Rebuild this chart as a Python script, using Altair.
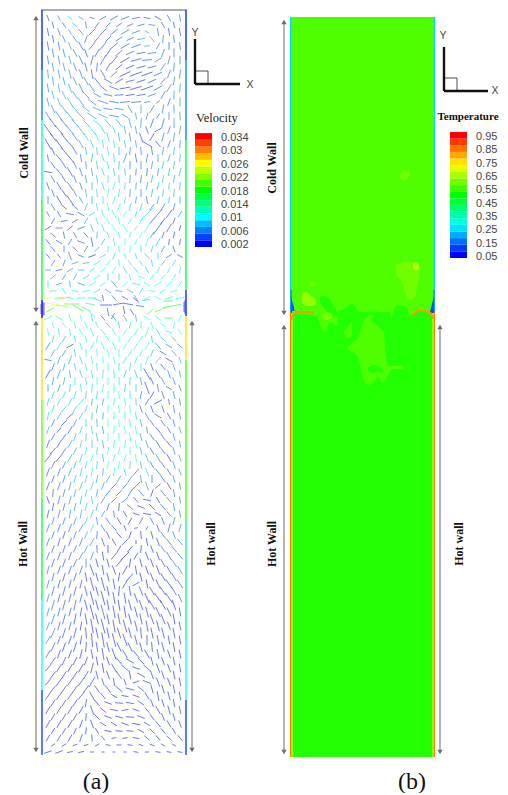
import math
import altair as alt
import pandas as pd

# ---------- velocity field: one row per y ----------
col_x = [48, 59, 70, 81, 92, 103, 114, 125, 136, 147, 158, 169, 180]
# y, direction (deg), glyph length (px), speed (x 0.001)
rows = [
 (18,[110,120,140,150,160,30,30,20,10,170,150,120,100],[7,6,6,6,5,8,9,9,8,7,8,7,7],[4,6,8,6,4,4,4,4,4,4,3,4,5]),
 (32,[100,110,120,130,45,45,40,30,20,150,100,100,100],[8,8,6,8,10,10,10,10,9,5,8,8,8],[4,5,6,5,4,4,4,4,5,6,5,4,4]),
 (46,[100,100,110,120,50,50,40,30,20,5,60,90,95],[9,9,8,10,10,11,11,10,10,6,7,8,8],[4,5,6,4,4,4,4,4,4,7,5,4,4]),
 (60,[100,100,105,115,75,60,50,30,15,5,30,75,90],[9,9,9,10,10,11,11,11,11,10,8,9,9],[5,6,6,5,4,4,3,3,3,4,5,5,5]),
 (74,[95,100,105,110,100,120,40,25,20,20,25,70,85],[9,9,10,10,10,10,9,12,13,12,9,9,9],[6,6,6,5,4,4,4,3,3,3,4,5,5]),
 (88,[100,100,110,115,125,140,160,10,15,20,30,60,85],[9,9,10,10,10,10,10,11,12,13,10,9,9],[6,7,7,5,5,4,4,3,3,3,4,5,6]),
 (102,[105,110,120,125,140,160,170,5,5,10,40,70,90],[9,9,11,11,11,11,10,10,10,6,5,8,9],[6,7,7,6,5,5,4,4,4,5,5,5,6]),
 (116,[120,125,130,135,145,155,170,150,100,75,60,90,95],[10,12,12,12,11,10,10,7,7,7,6,8,9],[5,6,6,7,7,6,5,5,6,5,4,5,6]),
 (130,[125,130,130,130,130,120,110,100,100,110,30,70,80],[14,13,12,13,12,9,8,8,8,8,8,8,9],[3,4,5,7,8,8,8,7,6,4,3,5,6]),
 (144,[120,125,130,120,110,100,100,100,100,150,130,70,85],[13,12,12,10,9,9,8,8,8,12,8,8,8],[3,3,4,6,8,9,9,8,7,3,3,5,6]),
 (158,[100,130,130,100,80,110,95,70,100,80,90,70,85],[7,10,12,8,8,8,9,10,9,9,8,8,8],[4,4,3,5,7,8,8,5,4,5,6,6,7]),
 (172,[170,130,120,110,100,110,100,100,85,85,80,80,75],[8,9,11,9,8,8,8,7,7,8,8,8,8],[3,4,4,5,6,8,8,7,5,4,6,7,7]),
 (186,[110,120,125,110,90,110,70,85,85,80,75,80,85],[8,9,10,8,8,8,8,7,7,8,8,7,8],[4,4,4,5,7,8,10,8,6,6,7,8,7]),
 (200,[90,120,125,120,90,90,70,80,80,100,75,80,90],[8,10,12,8,8,8,9,7,7,8,8,7,7],[4,3,3,5,7,9,11,9,6,5,7,8,6]),
 (214,[120,120,170,150,30,110,120,60,70,45,50,55,60],[6,7,8,8,7,9,9,7,7,18,12,10,7],[4,4,4,4,8,10,11,10,9,9,4,4,6]),
 (228,[30,0,40,20,110,110,120,120,50,60,55,60,75],[7,7,7,8,8,8,9,9,7,10,16,10,6],[3,4,3,4,7,9,10,11,10,10,4,4,3]),
 (242,[130,150,60,160,100,60,100,90,60,70,60,80,80],[7,7,7,8,10,7,8,6,7,9,9,6,6],[3,4,5,4,4,7,9,10,10,10,7,4,4]),
 (256,[130,130,110,160,20,30,70,110,110,130,90,30,150],[6,6,9,7,8,7,8,7,7,8,7,7,6],[4,4,5,5,3,8,9,10,9,9,8,5,3]),
 (270,[0,15,30,0,30,40,60,120,130,120,60,60,80],[6,7,7,7,7,7,8,8,8,8,7,7,7],[7,4,6,7,9,10,10,8,8,8,9,9,9]),
 (284,[90,20,100,160,30,30,130,40,170,150,30,40,60],[7,6,7,8,8,8,9,7,8,7,9,10,7],[9,5,7,6,10,11,5,10,9,11,10,10,11]),
 (298,[10,5,170,0,0,100,130,150,120,30,150,20,10],[10,9,7,9,9,6,7,7,6,7,8,9,9],[26,12,11,10,9,4,5,4,5,10,11,12,11]),
 (318,[30,150,110,100,100,130,130,120,100,150,140,0,60],[8,8,7,7,7,7,7,7,7,8,8,8,7],[12,12,14,10,8,4,5,6,7,10,12,16,12]),
 (332,[100,100,100,120,110,130,120,60,60,70,120,160,120],[7,7,7,8,9,8,8,8,8,10,8,7,7],[10,9,9,10,12,9,9,10,9,14,8,9,10]),
 (346,[60,60,30,110,60,110,110,60,60,60,130,150,140],[9,9,8,8,8,8,9,8,8,9,9,7,7],[5,8,3,9,9,10,11,10,10,11,5,5,5]),
 (360,[170,70,70,110,100,90,100,60,70,70,50,150,110],[7,9,10,9,8,8,8,8,8,9,8,8,7],[4,6,7,8,9,10,10,9,10,9,8,3,7]),
 (374,[60,70,100,110,100,85,95,70,110,120,120,110,100],[10,10,8,8,9,9,9,8,9,13,9,8,7],[3,6,7,8,9,9,9,8,8,3,4,5,6]),
 (388,[90,70,80,95,85,80,90,80,90,110,100,150,110],[7,8,8,8,9,9,9,8,8,13,8,7,7],[5,6,8,9,9,10,10,8,8,3,5,4,5]),
 (402,[75,60,60,50,80,75,85,100,95,60,30,100,100],[8,8,9,8,7,7,8,9,8,8,9,6,7],[8,8,8,9,7,6,11,10,9,4,3,4,5]),
 (416,[80,60,40,60,85,85,90,95,100,120,150,120,100],[8,8,10,8,7,7,8,9,8,8,8,7,7],[8,7,4,8,7,6,11,11,9,5,4,4,5]),
 (430,[70,50,60,70,100,100,85,100,100,100,130,120,110],[8,7,9,8,8,8,8,8,9,7,8,7,7],[7,3,4,8,8,6,10,11,10,5,3,4,6]),
 (444,[70,60,60,75,90,100,85,80,100,110,120,130,100],[9,9,9,8,8,8,8,8,8,8,9,9,7],[4,4,6,8,8,7,11,10,10,6,4,3,6]),
 (458,[50,50,60,70,70,100,70,70,100,110,120,120,110],[11,10,9,9,8,8,8,8,8,9,9,9,7],[3,3,6,8,10,7,12,11,11,7,5,3,6]),
 (472,[70,70,70,75,80,85,80,110,50,110,130,120,110],[9,9,9,9,9,8,8,8,9,9,9,8,7],[4,5,6,8,9,7,10,8,5,8,4,4,6]),
 (486,[70,70,75,70,70,70,45,50,45,110,40,120,100],[9,9,9,9,9,8,8,8,12,9,7,8,7],[4,5,6,7,8,6,4,4,4,6,3,3,5]),
 (500,[110,75,75,80,100,60,45,40,130,170,120,130,100],[8,9,9,9,8,8,8,8,7,8,7,7,7],[3,5,6,7,8,5,4,4,4,3,3,4,5]),
 (514,[75,75,80,80,70,60,100,120,160,170,150,130,100],[9,9,9,9,9,7,7,7,7,8,7,7,7],[4,5,6,7,8,6,4,3,3,3,3,4,5]),
 (528,[70,70,70,60,70,120,130,110,10,60,110,75,75],[9,9,9,9,9,8,8,6,4,4,8,9,8],[5,5,5,6,9,5,4,3,4,3,4,4,5]),
 (542,[70,75,70,70,60,110,120,45,90,100,110,130,130],[9,9,9,9,9,9,8,8,4,8,9,9,8],[5,4,4,5,6,4,3,3,3,3,3,4,5]),
 (556,[70,70,70,60,70,100,50,45,60,110,110,120,130],[9,9,9,9,9,9,9,12,8,9,9,9,9],[5,4,4,5,6,3,3,2,3,3,3,4,5]),
 (570,[75,70,70,70,110,100,110,60,100,110,110,120,120],[9,9,9,9,12,10,10,10,9,9,10,9,9],[5,4,4,4,3,3,3,3,3,2,3,3,5]),
 (584,[75,75,75,75,105,105,100,60,30,100,115,125,125],[9,9,9,9,14,14,11,10,8,9,10,11,10],[5,4,4,4,3,3,3,3,3,2,3,3,4]),
 (598,[75,75,75,75,105,105,100,100,110,115,125,125,115],[9,9,9,9,14,15,12,11,10,11,12,12,9],[6,4,4,4,3,3,3,3,3,2,3,3,4]),
 (612,[75,75,75,80,105,105,100,100,105,105,115,115,100],[9,9,9,9,15,15,13,12,11,11,11,10,9],[6,4,4,3,3,4,3,3,3,3,3,3,3]),
 (626,[70,75,75,80,100,105,100,105,105,100,105,110,100],[9,9,9,9,15,15,13,13,11,11,11,9,9],[6,4,4,3,3,3,3,3,3,3,3,3,3]),
 (640,[60,70,70,80,95,100,105,110,105,90,100,100,100],[9,9,9,9,14,15,14,13,10,10,10,9,9],[6,4,3,3,3,3,3,3,3,3,3,3,3]),
 (654,[60,70,70,75,100,100,110,120,130,120,100,110,100],[9,9,9,10,10,12,12,10,10,10,10,9,9],[4,3,3,3,3,3,3,3,3,2,3,3,3]),
 (668,[50,60,60,60,75,100,120,140,160,140,110,110,100],[9,9,9,10,11,10,10,9,8,9,10,9,9],[3,3,3,3,3,3,3,3,3,3,3,3,3]),
 (682,[50,55,55,55,60,110,100,110,20,160,110,110,100],[9,9,9,10,12,8,8,7,7,9,10,9,9],[3,3,3,3,3,3,3,3,3,3,3,3,3]),
 (696,[55,55,55,50,120,130,150,170,160,120,100,105,100],[9,9,9,10,10,8,7,7,7,8,10,9,9],[3,3,3,3,3,3,3,3,3,3,3,3,3]),
 (710,[60,60,60,60,110,140,170,10,160,130,120,105,100],[9,9,9,9,10,8,8,7,7,7,9,9,8],[3,3,3,3,3,3,3,3,3,3,3,3,3]),
 (724,[60,60,60,70,110,150,150,160,170,150,130,120,110],[9,9,9,9,9,7,7,8,8,7,8,8,8],[3,3,3,3,3,3,3,3,2,3,3,3,3]),
 (738,[60,60,60,70,95,130,10,10,170,140,130,140,130],[8,8,8,8,7,6,5,5,7,7,7,7,7],[3,3,3,3,3,3,3,2,3,3,3,3,3]),
 (752,[20,20,10,10,0,0,0,0,170,0,170,170,170],[8,8,6,6,4,3,3,3,5,4,5,5,5],[3,3,3,3,3,3,3,3,3,3,3,3,3]),
]
# second, staggered lattice of glyphs: y, directions, typical length, speeds
col_x2 = [53, 64, 75, 86, 97, 108, 119, 130, 141, 152, 163, 174]
rows2 = [
 (25,[105,125,140,100,55,45,35,25,15,170,120,105],7,[4,5,7,5,4,4,4,4,4,5,4,4]),
 (39,[100,115,125,70,50,45,35,25,10,130,85,95],8,[4,5,5,4,4,4,4,4,6,7,5,4]),
 (53,[100,105,120,110,60,55,40,25,10,10,70,90],9,[5,5,5,4,4,4,4,4,4,5,5,5]),
 (67,[100,105,112,105,85,60,40,25,15,15,55,85],9,[6,6,5,4,4,4,3,3,3,4,5,5]),
 (81,[98,105,115,120,130,150,30,15,18,25,50,80],9,[6,6,6,5,4,4,3,3,3,4,5,5]),
 (95,[105,115,122,135,150,165,5,8,10,20,60,88],9,[7,7,6,5,5,4,4,3,4,5,5,6]),
 (109,[115,125,132,142,155,170,170,120,90,60,80,92],9,[6,6,7,6,6,5,5,5,6,5,5,6]),
 (123,[125,130,132,135,140,130,130,105,85,70,75,90],10,[4,5,6,8,8,7,6,6,6,4,5,6]),
 (137,[125,128,125,125,115,105,100,100,110,60,75,82],9,[3,4,6,8,9,8,7,6,4,3,5,6]),
 (151,[115,130,120,100,95,100,90,85,95,100,80,80],8,[3,4,4,7,8,9,7,6,5,4,6,7]),
 (165,[125,125,115,95,100,105,85,90,90,80,75,80],8,[4,4,5,6,8,8,7,5,5,6,7,7]),
 (179,[120,122,110,100,100,90,95,85,82,78,80,80],8,[4,4,5,6,8,9,8,6,5,7,8,7]),
 (193,[110,125,115,100,95,80,80,85,90,80,78,85],8,[4,3,5,7,8,11,9,6,5,7,8,7]),
 (207,[120,140,140,70,100,100,70,75,70,55,60,75],8,[4,4,4,7,9,11,10,8,8,5,5,5]),
 (221,[60,10,30,60,110,115,100,60,60,50,55,70],7,[4,4,4,6,9,10,11,10,10,4,4,4]),
 (235,[140,100,120,130,85,110,105,70,65,60,70,80],7,[4,4,4,4,7,9,10,10,10,6,4,4]),
 (249,[130,90,140,60,40,85,100,85,95,75,60,110],7,[4,5,4,5,8,9,10,10,9,8,5,4]),
 (263,[60,70,20,10,30,50,95,125,125,100,50,60],7,[5,5,6,7,9,10,9,9,9,8,7,8]),
 (277,[40,60,60,30,30,90,90,100,160,60,40,60],7,[6,6,7,8,10,8,8,9,10,10,10,10]),
 (291,[5,120,170,10,30,150,170,150,60,170,30,20],7,[16,9,9,9,9,6,6,7,9,11,11,11]),
 (325,[110,130,100,115,115,130,100,80,90,110,140,80],7,[11,11,12,10,9,6,8,9,12,10,12,12]),
 (339,[80,60,100,100,80,120,90,60,60,100,140,130],7,[8,7,9,10,11,10,10,10,11,7,7,7]),
 (353,[60,60,100,90,95,105,85,60,65,70,150,130],8,[6,6,8,9,10,10,10,10,10,8,4,6]),
 (367,[70,75,105,105,95,90,85,80,90,110,130,110],8,[5,7,8,9,9,10,9,9,9,4,4,6]),
 (381,[80,78,90,100,90,85,90,85,100,115,120,110],8,[6,7,9,9,10,10,9,8,6,3,5,5]),
 (395,[70,65,70,85,80,85,95,90,80,60,110,105],8,[8,8,8,8,8,10,10,9,5,3,4,5]),
 (409,[70,50,55,70,80,85,95,100,110,110,110,100],8,[8,7,7,8,7,10,11,10,5,4,4,5]),
 (423,[65,45,65,90,95,90,95,100,105,125,125,105],8,[5,3,6,8,7,10,11,10,6,4,4,5]),
 (437,[60,55,70,85,100,85,90,100,105,125,125,105],8,[4,4,7,8,7,10,11,10,6,4,4,5]),
 (451,[50,55,65,75,85,80,75,90,105,120,125,105],8,[3,4,7,9,8,11,11,10,7,4,4,6]),
 (465,[65,65,70,75,85,75,80,85,105,120,125,110],8,[4,5,7,9,8,11,10,8,7,4,4,6]),
 (479,[70,72,72,75,78,60,60,55,100,90,125,105],8,[4,5,7,8,7,6,6,5,6,4,4,5]),
 (493,[85,75,75,75,75,50,45,60,130,70,130,100],8,[4,5,7,8,6,4,4,4,4,3,4,5]),
 (507,[80,75,78,75,75,70,85,140,160,135,130,100],8,[4,5,6,8,7,4,3,3,3,3,4,5]),
 (521,[72,72,70,65,100,125,120,60,60,120,110,75],8,[5,5,6,8,6,4,3,3,3,4,4,5]),
 (535,[70,72,70,65,85,115,130,70,95,105,125,110],8,[5,4,5,7,5,3,3,3,3,3,4,5]),
 (549,[70,72,65,65,95,90,60,50,85,110,125,130],8,[4,4,5,6,4,3,3,3,3,3,4,5]),
 (563,[72,70,65,90,105,105,50,80,105,110,120,125],9,[4,4,4,5,3,3,3,3,3,3,3,5]),
 (577,[75,72,72,100,105,105,80,50,105,112,120,120],9,[4,4,4,3,3,3,3,3,2,3,3,4]),
 (591,[75,75,75,105,105,102,85,100,112,120,125,120],10,[4,4,4,3,3,3,3,3,3,3,3,4]),
 (605,[75,75,78,105,105,100,100,105,110,120,120,110],11,[5,4,4,3,3,3,3,3,3,3,3,3]),
 (619,[72,75,78,100,105,102,102,105,102,110,112,100],11,[5,4,3,3,3,3,3,3,3,3,3,3]),
 (633,[65,72,75,95,102,102,108,105,95,102,105,100],11,[5,4,3,3,3,3,3,3,3,3,3,3]),
 (647,[65,70,72,85,100,105,115,115,105,95,105,100],10,[4,3,3,3,3,3,3,3,3,3,3,3]),
 (661,[55,65,65,70,100,110,130,150,135,105,110,100],9,[3,3,3,3,3,3,3,3,3,3,3,3]),
 (675,[52,58,58,60,105,110,125,100,150,110,110,100],9,[3,3,3,3,3,3,3,3,3,3,3,3]),
 (689,[52,55,55,55,125,125,140,165,140,105,108,100],9,[3,3,3,3,3,3,3,3,3,3,3,3]),
 (703,[58,58,58,80,130,160,175,170,145,110,108,100],8,[3,3,3,3,3,3,3,3,3,3,3,3]),
 (717,[60,60,60,85,135,160,165,175,160,125,112,105],8,[3,3,3,3,3,3,3,3,3,3,3,3]),
 (731,[60,60,65,85,120,170,175,175,150,135,130,120],7,[3,3,3,3,3,2,2,3,3,3,3,3]),
 (745,[35,30,20,15,30,170,0,170,160,160,150,150],5,[3,3,3,3,3,3,3,3,3,3,3,3]),
]
# glyphs of the shear layer at the cold/hot junction: x, y, dir, len, speed
junction = [
 (52,304,170,14,26),(62,306,170,12,22),(72,304,0,16,20),(78,308,150,12,18),(86,309,150,10,16),
 (65,298,10,12,28),(90,304,170,9,14),(50,310,30,8,18),(172,306,10,18,18),(160,310,20,12,20),
 (168,301,0,10,16),(150,312,40,8,16),(106,305,0,12,3),(118,304,10,10,3),(128,304,170,10,3),
 (136,300,140,8,3),(140,306,170,8,4),(108,312,100,8,4),(113,316,60,7,5),(124,310,100,8,3),
 (98,300,160,8,8),(132,312,120,7,4),(146,300,10,8,8),(92,314,130,10,12),
 (43,309,90,14,2),(44,309,90,12,2),(41,309,90,10,2),(185,307,90,14,2),(184,307,90,10,2),
]
# wall colour by stretch: x, y from, y to, speed
wall_a = [
 (42,10,70,3),(42,70,120,6),(42,120,200,12),(42,200,300,16),(42,300,318,2),(42,318,400,27),
 (42,400,500,21),(42,500,600,16),(42,600,690,10),(42,690,755,4),
 (186,10,60,3),(186,60,140,6),(186,140,290,16),(186,290,316,3),(186,316,360,27),(186,360,420,20),
 (186,420,520,20),(186,520,640,14),(186,640,700,10),(186,700,755,4),
]
frame_top = [(41,187,10)]

v_ticks = ["0.034","0.03","0.026","0.022","0.018","0.014","0.01","0.006","0.002"]
t_ticks = ["0.95","0.85","0.75","0.65","0.55","0.45","0.35","0.25","0.15","0.05"]
v_bands = [2,4,6,8,10,12,14,16,18,20,22,24,26,28,30,32,34]
t_bands = [5,10,15,20,25,30,35,40,45,50,55,60,65,70,75,80,85,90,95]
rainbow = ["#0000ff","#00ffff","#00ff00","#ffff00","#ff0000"]

# ---------- temperature field of panel (b) ----------
# x from, x to, y from, y to, T
t_rects = [
 (290,435,17,312,0.57),(290,435,312,757,0.53),
 (290,291.2,17,290,0.24),(433.8,435,17,290,0.24),
 (290,292,290,312,0.2),(433,435,290,312,0.2),
 (290,291.5,312,757,0.84),(291.5,292.5,312,757,0.72),
 (433.5,435,312,757,0.84),(432.5,433.5,312,757,0.72),
]
# wedges and patches: name, T, x, y-top, y-bottom
t_areas = [
 ("wedgeL",0.12,[291,293,295],[296,304,312],[313,313,312]),
 ("wedgeR",0.12,[430,432,434],[312,304,296],[312,313,313]),
 ("tongue",0.57,[292,317,320,325,330,335,342,347,352],[311,311,311,311,311,311,311,311,311],[313,316,325,332,322,325,327,338,336]),
 ("plume",0.57,[348,353,358,363,368,373,378,383,388,393,398,403],[347,342,338,323,316,315,327,330,366,366,366,366],[350,352,357,377,385,383,377,383,375,369,369,369]),
 ("plume2",0.57,[390,396,402,410,414],[312,312,312,312,312],[314,325,322,316,314]),
 ("hole",0.53,[368,373,378,383],[368,365,366,370],[371,373,372,374]),
 ("dark1",0.53,[320,326,332,337],[297,296,303,312],[303,310,315,316]),
 ("dark2",0.53,[338,345,352,358],[312,308,304,312],[326,330,322,326]),
 ("dark3",0.53,[372,382,392,398],[318,316,320,324],[322,326,326,328]),
 ("dark4",0.53,[392,398,405,408],[315,305,306,310],[322,324,323,318]),
 ("blob1",0.63,[302,306,311,315,316],[294,292,296,299,302],[302,306,306,305,303]),
 ("blob2",0.61,[322,327,332],[315,312,314],[317,320,318]),
 ("blob3",0.6,[310,313,316],[283,282,284],[285,286,285]),
 ("blob4",0.6,[400,404,410],[176,171,172],[178,180,174]),
 ("blob5",0.6,[396,402,408,414,420],[266,262,262,262,266],[276,282,300,298,270]),
 ("blob6",0.66,[413,416,419],[264,263,265],[268,270,268]),
]
# curved hot lip at the junction: name, T, x, y
lips = [
 ("lipL",0.82,[291,294,299,306,314],[320,314,312,312,313]),
 ("lipR",0.82,[413,418,424,430,434],[315,311,311,313,319]),
]

# ---------- annotation ----------
arrow_x = [36, 36, 192, 284, 284, 440]
arrow_top = [18, 323, 323, 22, 327, 327]
arrow_bot = [310, 750, 750, 313, 752, 752]
wall_text = ["Cold Wall","Hot Wall","Hot wall","Cold Wall","Hot Wall","Hot wall"]
wall_text_x = [24, 23, 211, 272, 272, 459]
wall_text_y = [153, 544, 544, 168, 544, 544]

X_DOM = [8, 500]
Y_DOM = [793, 8]
xs = alt.Scale(domain=X_DOM, nice=False, zero=False)
ys = alt.Scale(domain=Y_DOM, nice=False, zero=False)
X = lambda f="x": alt.X(f"{f}:Q", scale=xs, axis=None)
Y = lambda f="y": alt.Y(f"{f}:Q", scale=ys, axis=None)
vel_scale = alt.Scale(domain=[2,10,18,26,34], range=rainbow, interpolate="rgb")
tmp_scale = alt.Scale(domain=[0.05,0.275,0.5,0.725,0.95], range=rainbow, interpolate="rgb")
VC = alt.Color("s:Q", scale=vel_scale, legend=None)
TC = alt.Color("t:Q", scale=tmp_scale, legend=None)

def seg(x, y, a, l, s):
    dx = l / 2 * math.cos(math.radians(a))
    dy = l / 2 * math.sin(math.radians(a))
    return dict(x=x - dx, x2=x + dx, y=y + dy, y2=y - dy, s=s)

segs = [seg(x, r[0], a, l, s) for r in rows for x, a, l, s in zip(col_x, r[1], r[2], r[3])]
segs += [seg(x, r[0], a, r[2], s) for r in rows2 for x, a, s in zip(col_x2, r[1], r[3])]
segs += [seg(*g) for g in junction]

vec = alt.Chart(pd.DataFrame(segs)).mark_rule(strokeWidth=1, opacity=0.6).encode(
    x=X(), y=Y(), x2="x2:Q", y2="y2:Q", color=VC)

walls = alt.Chart(pd.DataFrame(wall_a, columns=["x","y","y2","s"])).mark_rule(strokeWidth=1.5, opacity=0.9).encode(
    x=X(), y=Y(), y2="y2:Q", color=VC)
topline = alt.Chart(pd.DataFrame(frame_top, columns=["x","x2","y"])).mark_rule(strokeWidth=1, color="#55557f").encode(
    x=X(), x2="x2:Q", y=Y())

vb = pd.DataFrame({"s": v_bands})
vb["y"] = [247 - i * 6.7 for i in range(len(v_bands))]
vb["y2"] = vb["y"] - 6.7
vb["x"] = 195; vb["x2"] = 212
vbar = alt.Chart(vb).mark_rect().encode(x=X(), x2="x2:Q", y=Y(), y2="y2:Q", color=VC)

tf = pd.DataFrame(t_rects, columns=["x","x2","y","y2","t"])
tfield = alt.Chart(tf).mark_rect().encode(x=X(), x2="x2:Q", y=Y(), y2="y2:Q", color=TC)

ar = [dict(n=n, t=t, x=a, y=b, y2=c) for n, t, xl, t1, t2 in t_areas for a, b, c in zip(xl, t1, t2)]
tarea = alt.Chart(pd.DataFrame(ar)).mark_area(interpolate="monotone", orient="vertical", opacity=1).encode(
    x=X(), y=Y(), y2="y2:Q", color=TC, detail="n:N")

lp = [dict(n=n, t=t, x=a, y=b) for n, t, xl, yl in lips for a, b in zip(xl, yl)]
tlip = alt.Chart(pd.DataFrame(lp)).mark_line(interpolate="monotone", strokeWidth=2.2).encode(
    x=X(), y=Y(), color=TC, detail="n:N")

tb = pd.DataFrame({"t": [b / 100 for b in t_bands]})
tb["y"] = [258 - i * 6.63 for i in range(len(t_bands))]
tb["y2"] = tb["y"] - 6.63
tb["x"] = 450; tb["x2"] = 467
tbar = alt.Chart(tb).mark_rect().encode(x=X(), x2="x2:Q", y=Y(), y2="y2:Q", color=TC)

ad = pd.DataFrame({"x": arrow_x, "y": arrow_top, "y2": arrow_bot})
shaft = alt.Chart(ad).mark_rule(color="#8c8c8c", strokeWidth=1.3).encode(x=X(), y=Y(), y2="y2:Q")
head_u = alt.Chart(ad).mark_point(shape="triangle-up", filled=True, size=28, color="#6f6f6f", opacity=1).encode(x=X(), y=Y())
head_d = alt.Chart(ad).mark_point(shape="triangle-down", filled=True, size=28, color="#6f6f6f", opacity=1).encode(x=X(), y=Y("y2"))

wt = pd.DataFrame({"x": wall_text_x, "y": wall_text_y, "l": wall_text})
wtext = alt.Chart(wt).mark_text(font="Liberation Serif", fontWeight="bold", fontSize=12, angle=270, color="#111").encode(
    x=X(), y=Y(), text="l:N")

# coordinate triads
tri_x0 = [195, 444]; tri_y0 = [84, 91]; tri_len = [45, 44]
st = pd.DataFrame({"x": tri_x0, "y": tri_y0, "xe": [a + b for a, b in zip(tri_x0, tri_len)],
                   "ye": [a - b for a, b in zip(tri_y0, tri_len)],
                   "xb": [a + 13 for a in tri_x0], "yb": [a - 13 for a in tri_y0]})
box = alt.Chart(st).mark_rect(fill="white", stroke="#222", strokeWidth=0.8).encode(x=X(), x2="xb:Q", y=Y(), y2="yb:Q")
ax_h = alt.Chart(st).mark_rule(color="#111", strokeWidth=2.4).encode(x=X(), x2="xe:Q", y=Y())
ax_v = alt.Chart(st).mark_rule(color="#111", strokeWidth=2.4).encode(x=X(), y=Y(), y2="ye:Q")
tl = pd.DataFrame({"x": [250, 195, 495, 443], "y": [85, 33, 91, 36], "l": ["X", "Y", "X", "Y"]})
ax_t = alt.Chart(tl).mark_text(font="Liberation Sans", fontSize=10.5, color="#444").encode(x=X(), y=Y(), text="l:N")

vt = pd.DataFrame({"l": v_ticks, "x": 221, "y": [138 + i * 13.4 for i in range(9)]})
tt = pd.DataFrame({"l": t_ticks, "x": 476, "y": [137 + i * 13.33 for i in range(10)]})
ticks = alt.Chart(pd.concat([vt, tt])).mark_text(font="Liberation Sans", fontSize=11, align="left", color="#444").encode(
    x=X(), y=Y(), text="l:N")
v_title = alt.Chart(pd.DataFrame({"x": [196], "y": [118], "l": ["Velocity"]})).mark_text(
    font="Liberation Serif", fontSize=12.5, align="left", color="#222").encode(x=X(), y=Y(), text="l:N")
t_title = alt.Chart(pd.DataFrame({"x": [468], "y": [117], "l": ["Temperature"]})).mark_text(
    font="Liberation Serif", fontSize=11, fontWeight="bold", color="#111").encode(x=X(), y=Y(), text="l:N")
cap = alt.Chart(pd.DataFrame({"x": [96, 412], "y": [782, 782], "l": ["(a)", "(b)"]})).mark_text(
    font="Liberation Serif", fontSize=24, color="#111").encode(x=X(), y=Y(), text="l:N")

velocity = alt.layer(vec, walls, vbar)
temperature = alt.layer(tfield, tarea, tlip, tbar)

chart = alt.layer(temperature, velocity, topline, shaft, head_u, head_d, wtext, box, ax_h, ax_v, ax_t,
                  ticks, v_title, t_title, cap).resolve_scale(color="independent").properties(
    width=492, height=785, padding=0, autosize="none", background="white"
).configure_view(stroke=None)

chart.save("out.html", embed_options={"renderer": "svg", "actions": False})
